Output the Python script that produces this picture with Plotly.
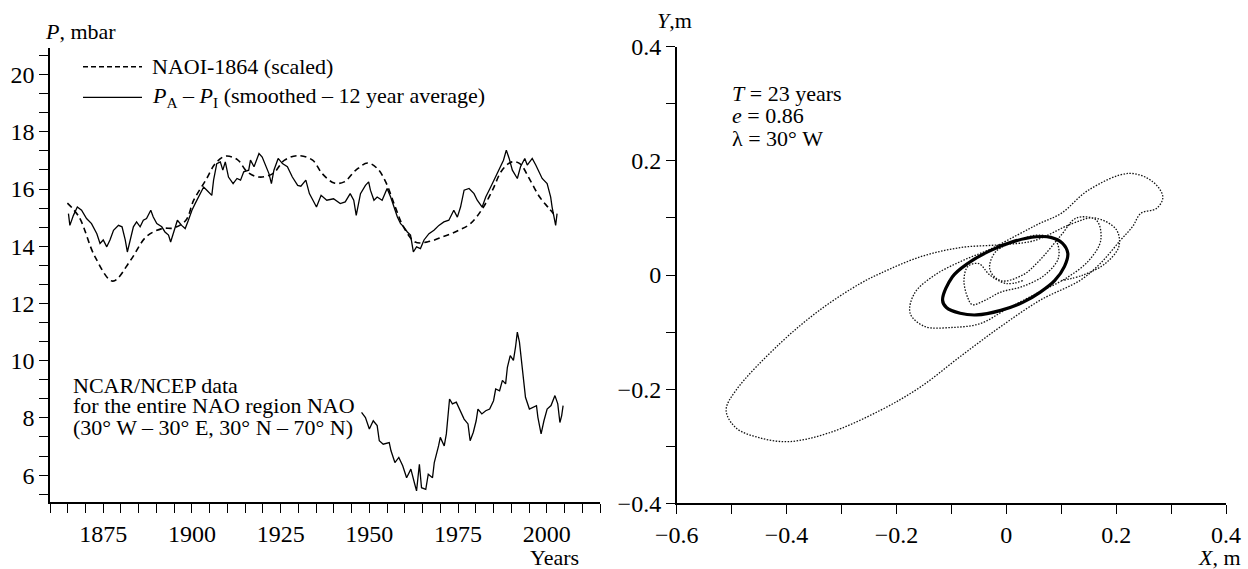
import plotly.graph_objects as go

W, H = 1248, 569
FONT = "Liberation Serif"

# ---------------- Left panel data ----------------
naoi_years = [1864.9, 1868.2, 1872.7, 1877.7, 1882.7, 1887.1, 1891.6, 1894.9, 1898.3, 1900.5,
              1903.9, 1906.6, 1909.4, 1912.8, 1915.6, 1918.9, 1922.8, 1926.1, 1930.0, 1934.0,
              1936.7, 1940.1, 1942.9, 1946.2, 1949.5, 1952.3, 1954.6, 1957.3, 1959.6, 1962.9,
              1966.3, 1970.7, 1975.2, 1978.5, 1981.9, 1984.7, 1987.4, 1990.2, 1992.4, 1995.3,
              1998.0, 2000.3, 2001.9]
naoi_vals = [15.51, 15.02, 13.63, 12.78, 13.51, 14.33, 14.62, 14.64, 14.91, 15.61,
             16.31, 16.89, 17.15, 17.03, 16.60, 16.42, 16.54, 17.01, 17.17, 17.01,
             16.54, 16.21, 16.25, 16.66, 16.91, 16.71, 16.25, 15.37, 14.68, 14.15,
             14.15, 14.33, 14.56, 14.79, 15.32, 15.96, 16.66, 16.95, 16.89, 16.31,
             15.72, 15.37, 15.14]

pa_years = [1865.2, 1865.6, 1866.6, 1867.7, 1868.9, 1870.3, 1871.7, 1873.2, 1874.1, 1875.0,
            1876.0, 1876.9, 1877.9, 1879.3, 1880.3, 1881.2, 1881.8, 1882.6, 1883.5, 1884.4,
            1885.4, 1886.3, 1887.2, 1888.4, 1889.1, 1890.1, 1891.5, 1892.4, 1893.4, 1894.0,
            1894.8, 1895.9, 1897.1, 1898.1, 1899.0, 1900.0, 1900.9, 1901.8, 1903.3, 1904.2,
            1905.6, 1906.1, 1907.0, 1908.0, 1908.7, 1909.4, 1910.3, 1911.6, 1912.7, 1913.7,
            1914.6, 1916.0, 1916.5, 1917.5, 1918.9, 1919.8, 1920.8, 1921.7, 1922.4, 1923.1,
            1924.3, 1925.5, 1926.9, 1928.3, 1929.8, 1930.7, 1932.1, 1933.1, 1934.1, 1935.1,
            1936.4, 1938.0, 1939.9, 1941.8, 1943.2, 1944.6, 1945.6, 1946.3, 1947.5, 1948.9,
            1949.8, 1950.3, 1951.3, 1952.2, 1953.6, 1955.0, 1956.0, 1956.9, 1957.9, 1958.8,
            1959.7, 1960.7, 1961.6, 1962.4, 1963.3, 1964.4, 1965.4, 1966.8, 1968.2, 1969.6,
            1971.0, 1972.4, 1973.8, 1974.8, 1975.7, 1976.7, 1978.1, 1979.5, 1980.4, 1981.8,
            1982.8, 1984.2, 1985.6, 1987.0, 1987.8, 1988.6, 1989.4, 1990.3, 1991.7, 1992.6,
            1993.8, 1994.5, 1995.9, 1996.9, 1997.8, 1998.7, 2000.1, 2001.1, 2001.5, 2002.5,
            2002.9]
pa_vals = [15.14, 14.73, 15.08, 15.37, 15.26, 14.97, 14.79, 14.44, 14.10, 14.22,
           13.98, 14.22, 14.56, 14.73, 14.68, 14.22, 13.80, 14.22, 14.68, 14.85,
           14.68, 14.91, 14.97, 15.26, 15.02, 14.79, 14.68, 14.50, 14.39, 14.15,
           14.50, 14.91, 14.73, 14.62, 14.91, 15.26, 15.49, 15.72, 16.07, 15.96,
           15.78, 16.31, 16.89, 16.95, 16.66, 16.95, 16.42, 16.19, 16.37, 16.31,
           16.60, 16.66, 17.01, 16.78, 17.24, 17.12, 16.78, 16.54, 16.19, 16.66,
           17.07, 16.89, 16.78, 16.42, 16.13, 16.10, 16.31, 15.84, 15.61, 15.37,
           15.78, 15.61, 15.66, 15.49, 15.55, 15.84, 15.61, 15.08, 15.84, 16.13,
           16.25, 15.96, 15.61, 15.72, 15.61, 16.02, 15.72, 15.37, 15.02, 14.79,
           14.68, 14.50, 14.39, 13.80, 13.98, 13.92, 14.22, 14.44, 14.56, 14.73,
           14.85, 14.91, 15.26, 15.02, 15.37, 15.96, 16.02, 15.84, 15.61, 15.37,
           15.72, 16.07, 16.42, 16.78, 17.01, 17.36, 17.07, 16.66, 16.37, 16.78,
           17.07, 16.84, 17.07, 16.84, 16.60, 16.37, 16.19, 15.72, 15.37, 14.73,
           15.14]

ncar_years = [1947.8, 1948.9, 1950.0, 1951.1, 1952.2, 1952.8, 1953.9, 1955.6, 1956.1, 1957.2,
              1958.3, 1959.4, 1960.5, 1961.7, 1962.8, 1963.3, 1964.1, 1964.7, 1965.9, 1966.6,
              1967.8, 1968.3, 1969.5, 1970.0, 1971.1, 1971.7, 1972.6, 1973.4, 1974.5, 1975.6,
              1976.7, 1977.8, 1978.4, 1979.3, 1980.1, 1980.6, 1981.7, 1982.8, 1983.9, 1985.0,
              1985.6, 1986.7, 1987.5, 1988.4, 1988.9, 1989.7, 1990.6, 1991.2, 1991.7, 1992.3,
              1993.1, 1994.0, 1995.1, 1996.2, 1997.1, 1997.5, 1998.4, 1999.2, 2000.1, 2001.2,
              2002.3, 2003.1, 2003.7, 2004.2, 2004.6]
ncar_vals = [8.19, 8.01, 7.61, 7.90, 7.73, 7.20, 7.08, 7.14, 6.85, 6.44,
             6.62, 6.33, 5.91, 6.21, 5.68, 5.45, 6.38, 5.56, 5.50, 6.03,
             5.91, 6.44, 7.02, 7.32, 7.02, 7.44, 8.66, 8.49, 8.55, 8.25,
             7.96, 7.79, 7.20, 7.50, 7.90, 8.31, 8.14, 8.25, 8.31, 8.60,
             9.01, 8.95, 9.31, 9.19, 9.77, 10.18, 10.01, 10.48, 11.00, 10.65,
             9.66, 8.72, 8.31, 8.37, 8.43, 8.02, 7.44, 7.90, 8.31, 8.43,
             8.78, 8.49, 7.84, 8.08, 8.43]

# ---------------- Right panel data ----------------
traj_x = [0.03, 0.0, -0.03, -0.05, -0.07, -0.077, -0.07, -0.062, -0.04, -0.01,
          0.03, 0.07, 0.095, 0.09, 0.06, 0.02, -0.02, -0.03, -0.01, 0.03,
          0.06, 0.1, 0.128, 0.164, 0.172, 0.15, 0.11, 0.06, 0.0, -0.047,
          -0.1, -0.149, -0.175, -0.167, -0.13, -0.08, -0.03, 0.02, 0.06, 0.1,
          0.15, 0.223, 0.266, 0.285, 0.274, 0.245, 0.23, 0.208, 0.172, 0.135,
          0.062, -0.011, -0.084, -0.156, -0.229, -0.324, -0.397, -0.45, -0.492, -0.51,
          -0.492, -0.412, -0.339, -0.266, -0.229, -0.156, -0.084, -0.011, 0.05, 0.12,
          0.16, 0.2, 0.205, 0.18, 0.14, 0.1]
traj_y = [-0.01, -0.015, 0.0, 0.02, 0.015, -0.01, -0.04, -0.052, -0.045, -0.03,
          -0.02, 0.0, 0.03, 0.06, 0.07, 0.06, 0.04, 0.01, -0.01, 0.0,
          0.025, 0.07, 0.1, 0.096, 0.061, 0.025, -0.005, -0.03, -0.06, -0.085,
          -0.092, -0.09, -0.067, -0.032, 0.0, 0.025, 0.045, 0.07, 0.09, 0.108,
          0.149, 0.178, 0.164, 0.137, 0.117, 0.108, 0.085, 0.061, 0.021, -0.009,
          -0.044, -0.091, -0.143, -0.196, -0.237, -0.277, -0.292, -0.285, -0.268, -0.237,
          -0.202, -0.12, -0.061, -0.015, 0.003, 0.032, 0.048, 0.053, 0.06, 0.09,
          0.1, 0.08, 0.05, 0.02, 0.0, -0.01]

ell_x = [-0.116, -0.098, -0.069, -0.033, 0.011, 0.055, 0.081, 0.102, 0.112, 0.106,
         0.088, 0.062, 0.030, -0.010, -0.054, -0.084, -0.109, -0.116]
ell_y = [-0.044, -0.003, 0.021, 0.041, 0.058, 0.067, 0.066, 0.056, 0.038, 0.015,
         -0.010, -0.030, -0.048, -0.062, -0.070, -0.067, -0.057, -0.044]

left_xticks = [1875, 1900, 1925, 1950, 1975, 2000]
left_yticks = [6, 8, 10, 12, 14, 16, 18, 20]
right_ticks = [-0.6, -0.4, -0.2, 0, 0.2, 0.4]

fig = go.Figure()

fig.add_trace(go.Scatter(x=naoi_years, y=naoi_vals, mode="lines", line_shape="spline",
                         line=dict(color="black", width=1.6, dash="6px,4px"),
                         xaxis="x", yaxis="y", showlegend=False))
fig.add_trace(go.Scatter(x=pa_years, y=pa_vals, mode="lines",
                         line=dict(color="black", width=1.3),
                         xaxis="x", yaxis="y", showlegend=False))
fig.add_trace(go.Scatter(x=ncar_years, y=ncar_vals, mode="lines",
                         line=dict(color="black", width=1.3),
                         xaxis="x", yaxis="y", showlegend=False))

fig.add_trace(go.Scatter(x=traj_x, y=traj_y, mode="lines", line_shape="spline",
                         line=dict(color="#111111", width=1.3, dash="1.5px,1.5px"),
                         xaxis="x2", yaxis="y2", showlegend=False))
fig.add_trace(go.Scatter(x=ell_x, y=ell_y, mode="lines", line_shape="spline",
                         line=dict(color="black", width=3.2),
                         xaxis="x2", yaxis="y2", showlegend=False))

tickfont = dict(family=FONT, size=24, color="black")
axis_common = dict(showline=True, linecolor="black", linewidth=1.5, ticks="outside",
                   ticklen=9, tickwidth=1.4, tickcolor="black", showgrid=False,
                   zeroline=False, tickfont=tickfont, fixedrange=True, automargin=False)

def px(v):
    return v / W

def py(v):
    return 1 - v / H

fig.update_layout(
    width=W, height=H, autosize=False,
    margin=dict(l=0, r=0, t=0, b=0, pad=0, autoexpand=False),
    paper_bgcolor="white", plot_bgcolor="white",
    showlegend=False,
    xaxis=dict(domain=[px(50), px(600)], range=[1860, 2015], anchor="y",
               tickmode="array", tickvals=left_xticks, ticktext=[str(t) for t in left_xticks],
               minor=dict(ticks="outside", dtick=5, tick0=1860, ticklen=9, tickwidth=1.4,
                          tickcolor="black", showgrid=False),
               **axis_common),
    yaxis=dict(domain=[py(502.3), py(48.3)], range=[5.05, 20.92], anchor="x",
               tickmode="array", tickvals=left_yticks, ticktext=[str(t) for t in left_yticks],
               minor=dict(ticks="outside", dtick=2/3, tick0=0, ticklen=9, tickwidth=1.4,
                          tickcolor="black", showgrid=False),
               **axis_common),
    xaxis2=dict(domain=[px(676.7), px(1226)], range=[-0.6, 0.4], anchor="y2",
                tickmode="array", tickvals=right_ticks,
                ticktext=["\u22120.6", "\u22120.4", "\u22120.2", "0", "0.2", "0.4"],
                minor=dict(ticks="outside", dtick=0.1, tick0=0, ticklen=9, tickwidth=1.4,
                           tickcolor="black", showgrid=False),
                **axis_common),
    yaxis2=dict(domain=[py(503.3), py(46.7)], range=[-0.4, 0.4], anchor="x2",
                tickmode="array", tickvals=right_ticks[1:],
                ticktext=["\u22120.4", "\u22120.2", "0", "0.2", "0.4"],
                minor=dict(ticks="outside", dtick=0.1, tick0=0, ticklen=9, tickwidth=1.4,
                           tickcolor="black", showgrid=False),
                **axis_common),
)

ann = []

def text(x, y, s, xanchor="left", size=22):
    ann.append(dict(x=px(x), y=py(y), xref="paper", yref="paper", text=s,
                    showarrow=False, xanchor=xanchor, yanchor="middle",
                    font=dict(family=FONT, size=size, color="black")))

# axis titles
text(43, 31, "<i>P</i>, mbar")
text(581, 557, "Years", xanchor="right")
text(655, 21, "<i>Y</i>,m")
text(1243, 557, "<i>X</i>, m", xanchor="right")

# legend (left panel)
text(150, 66.7, "NAOI-1864 (scaled)")
text(150, 97.3, "<i>P</i><sub>A</sub> \u2013 <i>P</i><sub>I</sub> (smoothed \u2013 12 year average)")

# NCAR block
text(71, 385, "NCAR/NCEP data")
text(71, 405, "for the entire NAO region NAO")
text(71, 427, "(30\u00b0 W \u2013 30\u00b0 E, 30\u00b0 N \u2013 70\u00b0 N)")

# right panel parameters
text(730, 93, "<i>T</i> = 23 years")
text(730, 116, "<i>e</i> = 0.86")
text(730, 138, "\u03bb = 30\u00b0 W")

fig.update_layout(annotations=ann)

# legend sample lines
fig.add_shape(type="line", xref="paper", yref="paper", x0=px(83), x1=px(142),
              y0=py(66.7), y1=py(66.7), line=dict(color="black", width=1.5, dash="5px,3px"))
fig.add_shape(type="line", xref="paper", yref="paper", x0=px(83), x1=px(142),
              y0=py(97.3), y1=py(97.3), line=dict(color="black", width=1.3))

page_fix = ("document.body.style.margin='0';document.body.style.padding='0';"
            "document.body.style.overflow='hidden';")

fig.write_html("out.html", config={"responsive": False, "displayModeBar": False},
               post_script=page_fix)
